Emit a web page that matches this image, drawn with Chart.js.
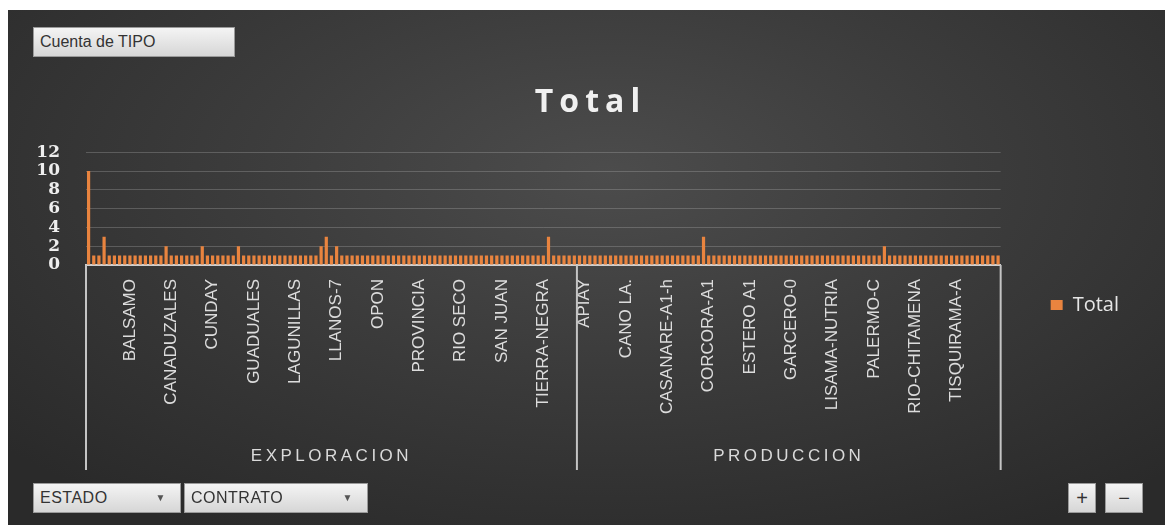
<!DOCTYPE html>
<html>
<head>
<meta charset="utf-8">
<script src="https://cdn.jsdelivr.net/npm/chart.js@4.4.1/dist/chart.umd.min.js"></script>
<style>
  body { margin: 0; background: #fff; }
  #wrap {
    position: absolute; left: 8px; top: 10px; width: 1157px; height: 515px;
    background: radial-gradient(ellipse 70% 80% at 52% 32%, #4c4c4c 0%, #3c3c3c 45%, #2a2a2a 100%);
    overflow: hidden;
  }
  #grafico { position: absolute; left: 0; top: 0; }
  .boton {
    position: absolute; height: 30px; box-sizing: border-box;
    background: linear-gradient(#f4f4f4, #d6d6d6);
    border: 1px solid #9a9a9a; color: #333;
    font-family: "Liberation Sans", Arial, sans-serif; font-size: 16px;
    line-height: 28px; padding-left: 6px; white-space: nowrap;
  }
  .flecha { position: absolute; right: 14px; top: 0; font-size: 10px; color: #555; }
</style>
</head>
<body>
<div id="wrap">
  <canvas id="grafico" width="1157" height="515"></canvas>
  <div class="boton" style="left:25px;top:17px;width:202px;">Cuenta de TIPO</div>
  <div class="boton" style="left:25px;top:473px;width:148px;letter-spacing:0.5px;">ESTADO<span class="flecha">&#9660;</span></div>
  <div class="boton" style="left:176px;top:473px;width:184px;letter-spacing:0.5px;">CONTRATO<span class="flecha">&#9660;</span></div>
  <div class="boton" style="left:1060px;top:473px;width:28px;padding:0;text-align:center;font-size:20px;">+</div>
  <div class="boton" style="left:1097px;top:473px;width:38px;padding:0;text-align:center;font-size:20px;">&minus;</div>
</div>
<script>
// Cuenta de TIPO por CONTRATO, agrupado por ESTADO
const estados = ['EXPLORACION', 'PRODUCCION'];

const exploracion = [
  10, 1, 1, 3, 1, 1, 1, 1, 1, 1,
  1, 1, 1, 1, 1, 2, 1, 1, 1, 1,
  1, 1, 2, 1, 1, 1, 1, 1, 1, 2,
  1, 1, 1, 1, 1, 1, 1, 1, 1, 1,
  1, 1, 1, 1, 1, 2, 3, 1, 2, 1,
  1, 1, 1, 1, 1, 1, 1, 1, 1, 1,
  1, 1, 1, 1, 1, 1, 1, 1, 1, 1,
  1, 1, 1, 1, 1, 1, 1, 1, 1, 1,
  1, 1, 1, 1, 1, 1, 1, 1, 1, 3,
  1, 1, 1, 1, 1
];

const produccion = [
  1, 1, 1, 1, 1, 1, 1, 1, 1, 1,
  1, 1, 1, 1, 1, 1, 1, 1, 1, 1,
  1, 1, 1, 1, 3, 1, 1, 1, 1, 1,
  1, 1, 1, 1, 1, 1, 1, 1, 1, 1,
  1, 1, 1, 1, 1, 1, 1, 1, 1, 1,
  1, 1, 1, 1, 1, 1, 1, 1, 1, 2,
  1, 1, 1, 1, 1, 1, 1, 1, 1, 1,
  1, 1, 1, 1, 1, 1, 1, 1, 1, 1,
  1, 1
];

// only every 8th contract name is shown on the axis
const saltoEtiquetas = 8;
const etiquetasVisibles = [
  '', 'BALSAMO', 'CANADUZALES', 'CUNDAY', 'GUADUALES', 'LAGUNILLAS',
  'LLANOS-7', 'OPON', 'PROVINCIA', 'RIO SECO', 'SAN JUAN', 'TIERRA-NEGRA',
  'APIAY', 'CANO LA.', 'CASANARE-A1-h', 'CORCORA-A1', 'ESTERO A1',
  'GARCERO-0', 'LISAMA-NUTRIA', 'PALERMO-C', 'RIO-CHITAMENA', 'TISQUIRAMA-A'
];

const yTicks = [0, 2, 4, 6, 8, 10, 12];

const valores = exploracion.concat(produccion);
const contratos = valores.map((_, i) =>
  i % saltoEtiquetas === 0 ? (etiquetasVisibles[i / saltoEtiquetas] || '') : '');
const tamGrupos = [exploracion.length, produccion.length];

// separators + ESTADO labels under the contract names
const grupoPlugin = {
  id: 'grupos',
  beforeDraw(chart) {
    // title: wider letter spacing, nudged right like the original
    const tb = chart.titleBlock;
    if (tb && !tb._espaciado) {
      const dibujar = tb.draw.bind(tb);
      tb.draw = function () {
        const c = chart.ctx;
        c.save();
        c.translate(22, 0);
        c.letterSpacing = '6px';
        dibujar();
        c.restore();
      };
      tb._espaciado = true;
    }
  },
  afterDraw(chart) {
    const ctx = chart.ctx;
    const x = chart.scales.x;
    const paso = x.getPixelForValue(1) - x.getPixelForValue(0);
    const top = chart.chartArea.bottom;
    const bottom = 460;
    let inicio = 0;
    const bordes = [x.getPixelForValue(0) - paso / 2];
    tamGrupos.forEach(n => {
      inicio += n;
      bordes.push(x.getPixelForValue(inicio - 1) + paso / 2);
    });
    ctx.save();
    ctx.strokeStyle = '#c4c4c4';
    ctx.lineWidth = 2;
    bordes.forEach(b => {
      ctx.beginPath();
      ctx.moveTo(b, top);
      ctx.lineTo(b, bottom);
      ctx.stroke();
    });
    ctx.fillStyle = '#dadada';
    ctx.font = '17px "Liberation Sans", Arial, sans-serif';
    ctx.letterSpacing = '3.5px';
    ctx.textAlign = 'center';
    ctx.textBaseline = 'middle';
    estados.forEach((e, i) => {
      ctx.fillText(e, (bordes[i] + bordes[i + 1]) / 2, 446);
    });
    ctx.restore();
  }
};

new Chart(document.getElementById('grafico'), {
  type: 'bar',
  data: {
    labels: contratos,
    datasets: [{
      label: 'Total',
      data: valores,
      backgroundColor: '#e9843f',
      borderWidth: 0,
      categoryPercentage: 1,
      barPercentage: 0.62
    }]
  },
  options: {
    responsive: false,
    animation: false,
    layout: { padding: { top: 75, left: 0, right: 36, bottom: 0 } },
    scales: {
      x: {
        grid: { display: false, drawTicks: false },
        border: { color: '#cfcfcf', width: 2 },
        ticks: {
          autoSkip: false,
          minRotation: 90,
          maxRotation: 90,
          padding: 14,
          color: '#dcdcdc',
          font: { family: '"Liberation Sans", Arial, sans-serif', size: 17 }
        },
        afterFit(scale) { scale.height = 260; }
      },
      y: {
        min: 0,
        max: 12,
        afterBuildTicks(scale) { scale.ticks = yTicks.map(v => ({ value: v })); },
        grid: { color: 'rgba(190,190,190,0.28)', lineWidth: 1, drawTicks: false },
        border: { display: false },
        ticks: {
          autoSkip: false,
          padding: 26,
          color: '#eeeeee',
          font: { family: '"DejaVu Serif", serif', size: 17, weight: 'bold', lineHeight: 1 }
        },
        afterFit(scale) { scale.width = 78; }
      }
    },
    plugins: {
      title: {
        display: true,
        text: 'Total',
        color: '#f0f0f0',
        font: { family: '"Open Sans", "Liberation Sans", sans-serif', size: 32, weight: 'bold', lineHeight: 1.1 },
        padding: { top: 0, bottom: 32 }
      },
      legend: {
        display: true,
        position: 'right',
        labels: {
          color: '#e6e6e6',
          boxWidth: 12,
          boxHeight: 10,
          padding: 50,
          font: { family: '"Open Sans", "Liberation Sans", sans-serif', size: 20 }
        }
      },
      tooltip: { enabled: false }
    }
  },
  plugins: [grupoPlugin]
});
</script>
</body>
</html>
